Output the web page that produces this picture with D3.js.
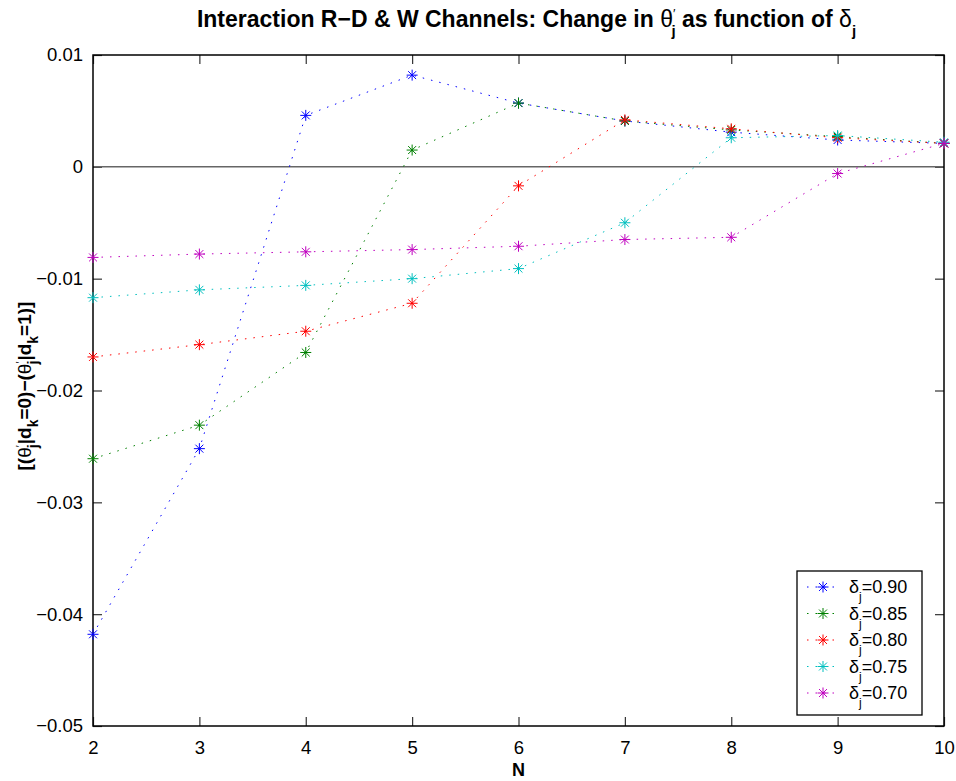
<html>
<head>
<script src="https://cdn.jsdelivr.net/npm/d3@7"></script>
<style>
body { margin: 0; background: #fff; }
text { font-family: "Liberation Sans", Arial, Helvetica, sans-serif; }
</style>
</head>
<body>
<svg id="chart" width="956" height="781"></svg>
<script>
// chart values
var N = [2, 3, 4, 5, 6, 7, 8, 9, 10];
var deltas = ["0.90", "0.85", "0.80", "0.75", "0.70"];
var d90 = [-0.0418, -0.0252, 0.0046, 0.0082, 0.0057, 0.0041, 0.0031, 0.0024, 0.0021];
var d85 = [-0.0261, -0.0231, -0.0166, 0.0015, 0.0057, 0.0041, 0.0033, 0.0027, 0.0021];
var d80 = [-0.0170, -0.0159, -0.0147, -0.0122, -0.0017, 0.0042, 0.0034, 0.0026, 0.0021];
var d75 = [-0.0117, -0.0110, -0.0106, -0.0100, -0.0091, -0.0050, 0.0026, 0.0028, 0.0022];
var d70 = [-0.0081, -0.0078, -0.0076, -0.0074, -0.0071, -0.0065, -0.0063, -0.0006, 0.0021];
var yTicks = [0.01, 0, -0.01, -0.02, -0.03, -0.04, -0.05];
var xTicks = [2, 3, 4, 5, 6, 7, 8, 9, 10];

var series = [d90, d85, d80, d75, d70];
var colors = ["#0000ff", "#008000", "#ff0000", "#00bfbf", "#bf00bf"];

var pL = 93, pR = 944, pT = 55, pB = 726;
var svg = d3.select("#chart");

var x = d3.scaleLinear().domain([2, 10]).range([pL, pR]);
var y = d3.scaleLinear().domain([-0.05, 0.01]).range([pB, pT]);

function fmt(v) {
  if (v == 0) return "0";
  var s = String(+v.toFixed(2));
  return s.replace("-", "\u2212");
}

// ticks (inward, all four sides)
var tl = 9;
svg.append("g").attr("transform", "translate(0," + pB + ")")
  .call(d3.axisBottom(x).tickValues(xTicks).tickSize(-tl).tickPadding(15).tickFormat(d3.format("d")))
  .call(function(g) { g.select(".domain").remove(); });
svg.append("g").attr("transform", "translate(0," + pT + ")")
  .call(d3.axisTop(x).tickValues(xTicks).tickSize(-tl).tickFormat(""))
  .call(function(g) { g.select(".domain").remove(); });
svg.append("g").attr("transform", "translate(" + pL + ",0)")
  .call(d3.axisLeft(y).tickValues(yTicks).tickSize(-tl).tickPadding(10).tickFormat(fmt))
  .call(function(g) { g.select(".domain").remove(); });
svg.append("g").attr("transform", "translate(" + pR + ",0)")
  .call(d3.axisRight(y).tickValues(yTicks).tickSize(-tl).tickFormat(""))
  .call(function(g) { g.select(".domain").remove(); });

svg.selectAll(".tick line").attr("stroke", "#333").attr("stroke-width", 1.2);
svg.selectAll(".tick text").attr("font-size", 18.5).attr("fill", "#000")
  .style("font-family", "'Liberation Sans', Arial, sans-serif");

// zero line
svg.append("line")
  .attr("x1", pL).attr("x2", pR)
  .attr("y1", y(0)).attr("y2", y(0))
  .attr("stroke", "#666").attr("stroke-width", 1.5);

// box
svg.append("rect")
  .attr("x", pL).attr("y", pT)
  .attr("width", pR - pL).attr("height", pB - pT)
  .attr("fill", "none").attr("stroke", "#000").attr("stroke-width", 1.5);

var line = d3.line()
  .x(function(d, i) { return x(N[i]); })
  .y(function(d) { return y(d); });

function star(g, cx, cy, r, col) {
  var a = r * 0.72;
  var segs = [[-r, 0, r, 0], [0, -r, 0, r], [-a, -a, a, a], [-a, a, a, -a]];
  segs.forEach(function(s) {
    g.append("line")
      .attr("x1", cx + s[0]).attr("y1", cy + s[1])
      .attr("x2", cx + s[2]).attr("y2", cy + s[3])
      .attr("stroke", col).attr("stroke-width", 1);
  });
}

series.forEach(function(vals, k) {
  var g = svg.append("g");
  g.append("path")
    .attr("d", line(vals))
    .attr("fill", "none")
    .attr("stroke", colors[k])
    .attr("stroke-width", 1)
    .attr("stroke-dasharray", "1.5,7");
  vals.forEach(function(v, i) {
    star(g, x(N[i]), y(v), 5.5, colors[k]);
  });
});

// legend
var lg = svg.append("g");
lg.append("rect")
  .attr("x", 797).attr("y", 571).attr("width", 125).attr("height", 144)
  .attr("fill", "#fff").attr("stroke", "#000").attr("stroke-width", 1.3);
deltas.forEach(function(d, k) {
  var ly = 587 + k * 26.5;
  lg.append("line")
    .attr("x1", 807).attr("x2", 838).attr("y1", ly).attr("y2", ly)
    .attr("stroke", colors[k]).attr("stroke-width", 1).attr("stroke-dasharray", "1.5,7");
  star(lg, 823, ly, 5.5, colors[k]);
  var t = lg.append("text").attr("x", 849).attr("y", ly + 6).attr("font-size", 18).attr("fill", "#000");
  t.append("tspan").text("\u03b4");
  t.append("tspan").attr("dy", 8).attr("font-size", 12).text("j");
  t.append("tspan").attr("dy", -8).text("=" + d);
});

// title
var title = svg.append("text")
  .attr("x", (pL + pR) / 2 + 8).attr("y", 27)
  .attr("text-anchor", "middle").attr("font-size", 23).attr("font-weight", "bold");
title.append("tspan").text("Interaction R\u2212D & W Channels: Change in ");
title.append("tspan").attr("font-weight", "normal").text("\u03b8");
title.append("tspan").attr("dy", -9).attr("font-size", 13).attr("font-weight", "normal").text("\u2032");
title.append("tspan").attr("dx", -4).attr("dy", 18).attr("font-size", 15).text("j");
title.append("tspan").attr("dy", -9).text(" as function of ");
title.append("tspan").attr("font-weight", "normal").text("\u03b4");
title.append("tspan").attr("dy", 9).attr("font-size", 15).text("j");

// x label
svg.append("text")
  .attr("x", (pL + pR) / 2).attr("y", 776)
  .attr("text-anchor", "middle").attr("font-size", 18).attr("font-weight", "bold").text("N");

// y label
var yl = svg.append("text")
  .attr("transform", "translate(31,386) rotate(-90)")
  .attr("text-anchor", "middle").attr("font-size", 19).attr("font-weight", "bold");
yl.append("tspan").text("[(");
yl.append("tspan").attr("font-weight", "normal").text("\u03b8");
yl.append("tspan").attr("dy", -7).attr("font-size", 11).attr("font-weight", "normal").text("\u2032");
yl.append("tspan").attr("dx", -3).attr("dy", 14).attr("font-size", 14).text("j");
yl.append("tspan").attr("dy", -7).text("|d");
yl.append("tspan").attr("dy", 7).attr("font-size", 14).text("k");
yl.append("tspan").attr("dy", -7).text("=0)\u2212(");
yl.append("tspan").attr("font-weight", "normal").text("\u03b8");
yl.append("tspan").attr("dy", -7).attr("font-size", 11).attr("font-weight", "normal").text("\u2032");
yl.append("tspan").attr("dx", -3).attr("dy", 14).attr("font-size", 14).text("j");
yl.append("tspan").attr("dy", -7).text("|d");
yl.append("tspan").attr("dy", 7).attr("font-size", 14).text("k");
yl.append("tspan").attr("dy", -7).text("=1)]");
</script>
</body>
</html>
